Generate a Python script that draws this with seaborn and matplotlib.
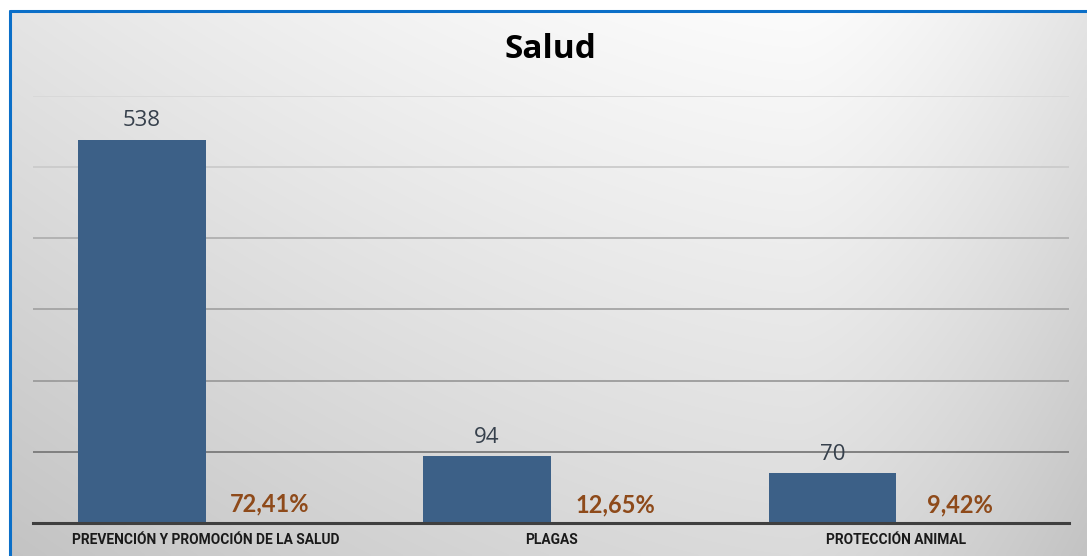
import numpy as np
import pandas as pd
import matplotlib
matplotlib.use("Agg")
import matplotlib.pyplot as plt
import seaborn as sns
from matplotlib.lines import Line2D

# ---- data ----
categorias = ["PREVENCIÓN Y PROMOCIÓN DE LA SALUD", "PLAGAS", "PROTECCIÓN ANIMAL"]
cantidades = [538, 94, 70]
porcentajes = [72.41, 12.65, 9.42]
porcentaje_labels = ["72,41%", "12,65%", "9,42%"]
titulo = "Salud"
y_ticks = [0, 100, 200, 300, 400, 500, 600]

W, H = 1087, 556
sns.set_theme(style="white")
fig = plt.figure(figsize=(W / 100, H / 100), dpi=100)
fig.patch.set_facecolor("white")

# ---- gradient background panel ----
bx0, by_top = 10, 11
bg = fig.add_axes([bx0 / W, 0, 1 - bx0 / W, 1 - by_top / H])
xs = np.linspace(bx0, W, 400)
ys = np.linspace(by_top, H, 200)
X, Y = np.meshgrid(xs, ys)
dx = np.where(X < 800, (800 - X) / 800.0, (X - 800) / 287.0)
v = 0.985 - 0.09 * dx ** 1.5 - 0.13 * ((Y - by_top) / (H - by_top))
v = np.clip(v, 0, 1)
img = np.dstack([v, v, v])
bg.imshow(img, aspect="auto", extent=[0, 1, 0, 1], origin="upper", interpolation="bilinear")
bg.set_xlim(0, 1)
bg.set_ylim(0, 1)
bg.axis("off")

# blue border (top and left)
fig.add_artist(Line2D([bx0 / W, 1], [1 - by_top / H, 1 - by_top / H], transform=fig.transFigure,
                      color="#0B6FC8", lw=2.2))
fig.add_artist(Line2D([bx0 / W, bx0 / W], [0, 1 - by_top / H], transform=fig.transFigure,
                      color="#0B6FC8", lw=2.2))

# ---- main axes ----
ax_l, ax_r, ax_b, ax_t = 33, 1069, 523, 95.5
ax = fig.add_axes([ax_l / W, (H - ax_b) / H, (ax_r - ax_l) / W, (ax_b - ax_t) / H])
ax.patch.set_alpha(0)

df = pd.DataFrame({
    "categoria": categorias * 2,
    "serie": ["Cantidad"] * len(categorias) + ["Porcentaje"] * len(categorias),
    "valor": cantidades + [p / 100 for p in porcentajes],
})
sns.barplot(data=df, x="categoria", y="valor", hue="serie",
            palette={"Cantidad": "#3C6087", "Porcentaje": "#3C6087"},
            width=0.74, gap=0, dodge=True, legend=False, ax=ax,
            saturation=1, errorbar=None, zorder=3, linewidth=0, edgecolor="none")

for p in ax.containers[1]:
    p.set_alpha(0)

ax.set_ylim(0, 600)
ax.set_xlim(-0.5, 2.5)
ax.set_yticks(y_ticks)
ax.set_yticklabels([])
ax.tick_params(axis="y", length=0)
ax.tick_params(axis="x", length=0, pad=7)
ax.set_xlabel("")
ax.set_ylabel("")
ax.set_axisbelow(True)
ax.yaxis.grid(True, linewidth=1.3)
grid_colors = ["#404040", "#7a7a7a", "#9c9c9c", "#a4a4a4", "#b0b0b0", "#cbcbcb", "#d8d8d8"]
for gl, c in zip(ax.get_ygridlines(), grid_colors):
    gl.set_color(c)

for s in ["top", "right", "left"]:
    ax.spines[s].set_visible(False)
ax.spines["bottom"].set_color("#3f3f3f")
ax.spines["bottom"].set_linewidth(2.2)
ax.spines["bottom"].set_zorder(5)

ax.set_xticks(range(len(categorias)))
ax.set_xticklabels(categorias, fontsize=9.9, fontweight="bold", color="#1a1a1a", family="Roboto")

ax.bar_label(ax.containers[0], labels=[str(v) for v in cantidades], padding=6,
             fontsize=16, color="#36404c", family="Open Sans")
ax.bar_label(ax.containers[1], labels=porcentaje_labels, padding=5,
             fontsize=17, color="#8E4A1A", family="Lato", fontweight="bold")

fig.text(550 / W, 1 - 49 / H, titulo, ha="center", va="center", fontsize=24,
         fontweight="bold", family="Open Sans", color="black")

fig.savefig("out.png", dpi=100)
